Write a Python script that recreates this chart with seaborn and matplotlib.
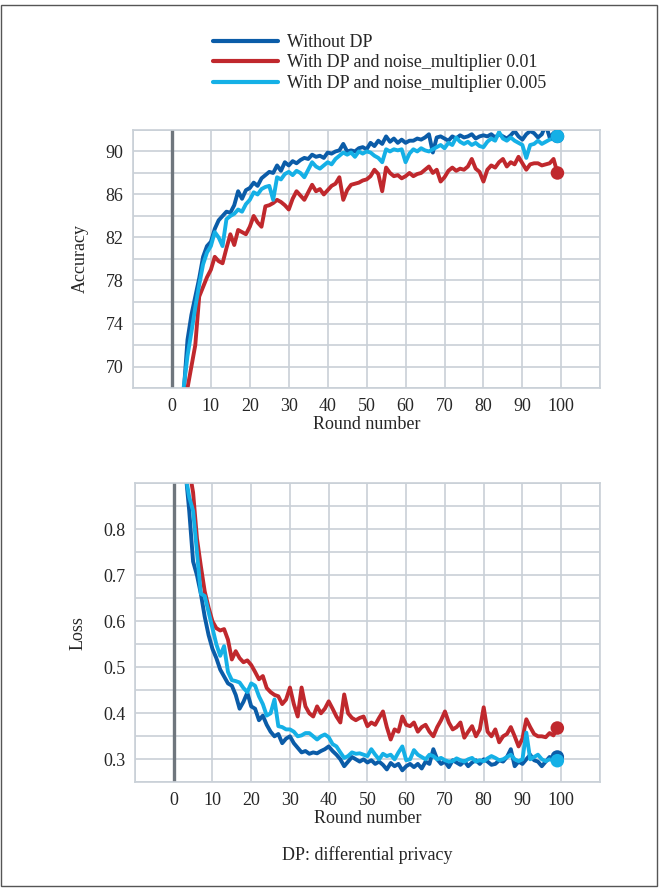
import numpy as np
import pandas as pd
import matplotlib
matplotlib.use("Agg")
import matplotlib.pyplot as plt
import seaborn as sns
from matplotlib.patches import Rectangle
from matplotlib.ticker import MultipleLocator

# Data (rounds 0..99)
rounds = list(range(100))
series_names = ["Without DP",
                "With DP and noise_multiplier 0.01",
                "With DP and noise_multiplier 0.005"]
series_colors = ["#0b5ca8", "#c0282d", "#15b0e6"]
acc_ticks = [70, 74, 78, 82, 86, 90]
loss_ticks = [0.3, 0.4, 0.5, 0.6, 0.7, 0.8]
round_ticks = list(range(0, 101, 10))

acc_no_dp = [20, 35, 50, 67.5, 72.5, 74.8, 76.5, 78.2, 80.2, 81.2,
             81.6, 82.8, 83.6, 84.0, 84.4, 84.3, 85.0, 86.3, 85.6, 86.4,
             86.6, 87.1, 86.8, 87.5, 87.8, 88.1, 88.0, 88.7, 88.2, 89.0,
             88.7, 89.1, 88.9, 89.2, 89.4, 89.3, 89.7, 89.5, 89.6, 89.4,
             89.9, 89.8, 90.0, 90.1, 90.7, 90.0, 90.1, 90.0, 90.3, 90.4,
             90.2, 90.8, 90.5, 91.0, 90.7, 91.4, 90.9, 91.2, 90.8, 91.1,
             90.8, 91.0, 91.0, 91.2, 91.1, 91.3, 91.6, 89.9, 91.3, 91.4,
             91.2, 91.0, 91.4, 91.2, 91.5, 91.3, 91.4, 91.6, 91.2, 91.4,
             91.5, 91.4, 91.6, 91.3, 91.6, 91.4, 91.2, 91.5, 91.9, 91.4,
             91.1, 91.6, 91.9, 91.7, 91.3, 91.6, 92.5, 91.3, 91.7, 91.4]
acc_dp_01 = [18, 30, 45, 58, 68.0, 70.0, 72.0, 76.5, 77.4, 78.3,
             79.0, 80.2, 79.8, 79.6, 81.0, 82.3, 81.3, 82.7, 82.5, 82.3,
             83.0, 84.0, 83.4, 83.0, 84.9, 85.0, 85.2, 85.5, 85.3, 85.0,
             84.6, 85.6, 86.3, 85.9, 85.5, 86.2, 86.9, 86.3, 86.5, 86.0,
             86.4, 86.8, 87.0, 87.6, 85.5, 86.4, 86.9, 87.0, 87.1, 87.3,
             87.4, 87.7, 88.3, 87.9, 86.3, 88.5, 88.0, 87.7, 87.8, 87.5,
             87.7, 88.0, 87.7, 87.9, 88.0, 88.3, 88.6, 88.0, 88.3, 87.2,
             87.6, 88.2, 88.5, 88.2, 88.4, 88.3, 88.6, 89.3, 88.4, 88.1,
             87.2, 88.3, 88.7, 88.5, 89.0, 89.3, 88.6, 89.0, 88.8, 89.5,
             88.9, 88.3, 88.8, 88.9, 88.9, 88.7, 88.8, 88.9, 89.3, 88.0]
acc_dp_005 = [20, 38, 52, 68, 71.0, 73.2, 75.5, 77.6, 79.5, 80.6,
              81.2, 82.5, 82.0, 81.2, 83.7, 84.0, 84.2, 84.6, 84.4, 85.1,
              85.5, 86.2, 86.0, 86.5, 86.7, 86.8, 85.5, 87.6, 87.4, 87.9,
              88.1, 87.8, 88.2, 88.0, 87.6, 88.3, 89.0, 88.6, 88.4, 88.7,
              89.0, 88.8, 89.3, 89.6, 89.9, 89.7, 89.9, 89.5, 90.0, 89.8,
              90.0, 89.9, 89.6, 89.4, 89.0, 90.2, 90.0, 90.2, 90.1, 90.2,
              89.0, 89.8, 90.2, 90.0, 90.3, 90.1, 90.0, 90.2, 90.4, 90.6,
              90.3, 90.8, 90.6, 91.3, 90.9, 90.7, 90.9, 90.6, 90.8, 90.5,
              90.4, 90.9, 91.2, 91.0, 91.8, 91.2, 91.0, 91.3, 91.0, 90.8,
              90.6, 89.4, 90.6, 90.7, 91.0, 90.7, 90.9, 91.1, 91.2, 91.4]

loss_no_dp = [1.6, 1.3, 1.05, 0.93, 0.84, 0.73, 0.70, 0.66, 0.61, 0.57,
              0.54, 0.52, 0.495, 0.48, 0.465, 0.46, 0.44, 0.41, 0.425, 0.445,
              0.415, 0.41, 0.385, 0.395, 0.375, 0.36, 0.35, 0.355, 0.335, 0.345,
              0.35, 0.335, 0.325, 0.315, 0.318, 0.312, 0.315, 0.313, 0.318, 0.322,
              0.328, 0.318, 0.31, 0.30, 0.285, 0.295, 0.305, 0.30, 0.295, 0.30,
              0.293, 0.298, 0.29, 0.295, 0.288, 0.278, 0.292, 0.285, 0.29, 0.276,
              0.285, 0.29, 0.283, 0.29, 0.28, 0.295, 0.29, 0.322, 0.30, 0.29,
              0.295, 0.283, 0.298, 0.293, 0.288, 0.296, 0.285, 0.293, 0.298, 0.29,
              0.30, 0.295, 0.288, 0.29, 0.298, 0.295, 0.305, 0.322, 0.285, 0.295,
              0.29, 0.30, 0.31, 0.298, 0.295, 0.285, 0.295, 0.305, 0.30, 0.305]
loss_dp_01 = [1.7, 1.4, 1.15, 1.0, 0.93, 0.88, 0.78, 0.72, 0.665, 0.63,
              0.60, 0.585, 0.58, 0.583, 0.56, 0.517, 0.535, 0.52, 0.511, 0.515,
              0.505, 0.49, 0.474, 0.481, 0.455, 0.446, 0.44, 0.437, 0.42, 0.43,
              0.456, 0.42, 0.393, 0.456, 0.415, 0.40, 0.393, 0.415, 0.40, 0.41,
              0.426, 0.41, 0.393, 0.38, 0.441, 0.40, 0.39, 0.385, 0.39, 0.393,
              0.372, 0.38, 0.375, 0.39, 0.404, 0.37, 0.343, 0.365, 0.36, 0.393,
              0.375, 0.372, 0.38, 0.36, 0.37, 0.375, 0.36, 0.35, 0.37, 0.385,
              0.404, 0.38, 0.365, 0.37, 0.38, 0.347, 0.36, 0.372, 0.35, 0.365,
              0.413, 0.36, 0.35, 0.365, 0.337, 0.35, 0.355, 0.37, 0.35, 0.328,
              0.345, 0.387, 0.37, 0.355, 0.35, 0.35, 0.348, 0.357, 0.352, 0.368]
loss_dp_005 = [1.6, 1.3, 1.05, 0.92, 0.87, 0.84, 0.75, 0.66, 0.655, 0.62,
               0.585, 0.55, 0.525, 0.546, 0.49, 0.472, 0.47, 0.467, 0.455, 0.446,
               0.465, 0.46, 0.437, 0.42, 0.395, 0.40, 0.43, 0.372, 0.37, 0.365,
               0.365, 0.36, 0.35, 0.352, 0.357, 0.357, 0.35, 0.343, 0.35, 0.354,
               0.348, 0.333, 0.328, 0.315, 0.303, 0.307, 0.315, 0.312, 0.313, 0.31,
               0.307, 0.322, 0.31, 0.30, 0.312, 0.307, 0.31, 0.30, 0.315, 0.328,
               0.298, 0.30, 0.32, 0.31, 0.305, 0.30, 0.31, 0.307, 0.30, 0.303,
               0.298, 0.295, 0.296, 0.302, 0.298, 0.295, 0.30, 0.303, 0.295, 0.298,
               0.296, 0.302, 0.307, 0.303, 0.298, 0.30, 0.305, 0.31, 0.30, 0.296,
               0.30, 0.358, 0.30, 0.305, 0.31, 0.30, 0.296, 0.30, 0.298, 0.297]


def long_form(values_list, col):
    frames = []
    for name, vals in zip(series_names, values_list):
        frames.append(pd.DataFrame({"round": rounds, col: vals, "series": name}))
    return pd.concat(frames, ignore_index=True)


acc_df = long_form([acc_no_dp, acc_dp_01, acc_dp_005], "acc")
loss_df = long_form([loss_no_dp, loss_dp_01, loss_dp_005], "loss")

sns.set_style("white")
plt.rcParams["font.family"] = ["Liberation Serif", "DejaVu Serif"]

grid_color = "#c9d0d7"
zero_color = "#6f767d"
palette = dict(zip(series_names, series_colors))

fig = plt.figure(figsize=(6.6, 8.9), dpi=100)
ax1 = fig.add_axes([0.2015, 0.564, 0.708, 0.290])
ax2 = fig.add_axes([0.2045, 0.121, 0.7045, 0.336])


def style_axis(ax, ylim, yticks, minor):
    ax.set_xlim(-10, 110)
    ax.set_ylim(*ylim)
    ax.set_xticks(round_ticks)
    ax.set_yticks(yticks)
    ax.xaxis.set_minor_locator(MultipleLocator(10))
    ax.yaxis.set_minor_locator(MultipleLocator(minor))
    ax.grid(True, which="both", color=grid_color, linewidth=1.2)
    ax.set_axisbelow(True)
    ax.axvline(0, color=zero_color, linewidth=2.4, zorder=1.5)
    for sp in ax.spines.values():
        sp.set_color(grid_color)
        sp.set_linewidth(1.2)
    ax.tick_params(which="both", length=0, labelsize=13, pad=7)


def draw_panel(ax, df, col, ylabel):
    sns.lineplot(data=df, x="round", y=col, hue="series", hue_order=series_names,
                 palette=palette, linewidth=2.8, ax=ax, legend=False)
    last = df[df["round"] == rounds[-1]]
    sns.scatterplot(data=last, x="round", y=col, hue="series", hue_order=series_names,
                    palette=palette, s=95, edgecolor="none", ax=ax, legend=False, zorder=5)
    ax.set_ylabel(ylabel, fontsize=13, labelpad=12)
    ax.set_xlabel("Round number", fontsize=13, labelpad=1)


style_axis(ax1, (68, 92), acc_ticks, 2)
draw_panel(ax1, acc_df, "acc", "Accuracy")

style_axis(ax2, (0.25, 0.9), loss_ticks, 0.05)
draw_panel(ax2, loss_df, "loss", "Loss")
ax2.set_yticklabels([f"{t:.1f}" for t in loss_ticks])

handles = [plt.Line2D([], [], color=c, linewidth=3) for c in series_colors]
fig.legend(handles, series_names, loc="upper left", bbox_to_anchor=(0.322, 0.962),
           frameon=False, fontsize=13, handlelength=3.6, handletextpad=0.55,
           labelspacing=0.2, borderpad=0, borderaxespad=0)

fig.text(0.557, 0.039, "DP: differential privacy", ha="center", va="center", fontsize=13)

fig.patches.append(Rectangle((0.002, 0.005), 0.993, 0.989, transform=fig.transFigure,
                             fill=False, edgecolor="#555555", linewidth=1))

fig.savefig("out.png", dpi=100)
